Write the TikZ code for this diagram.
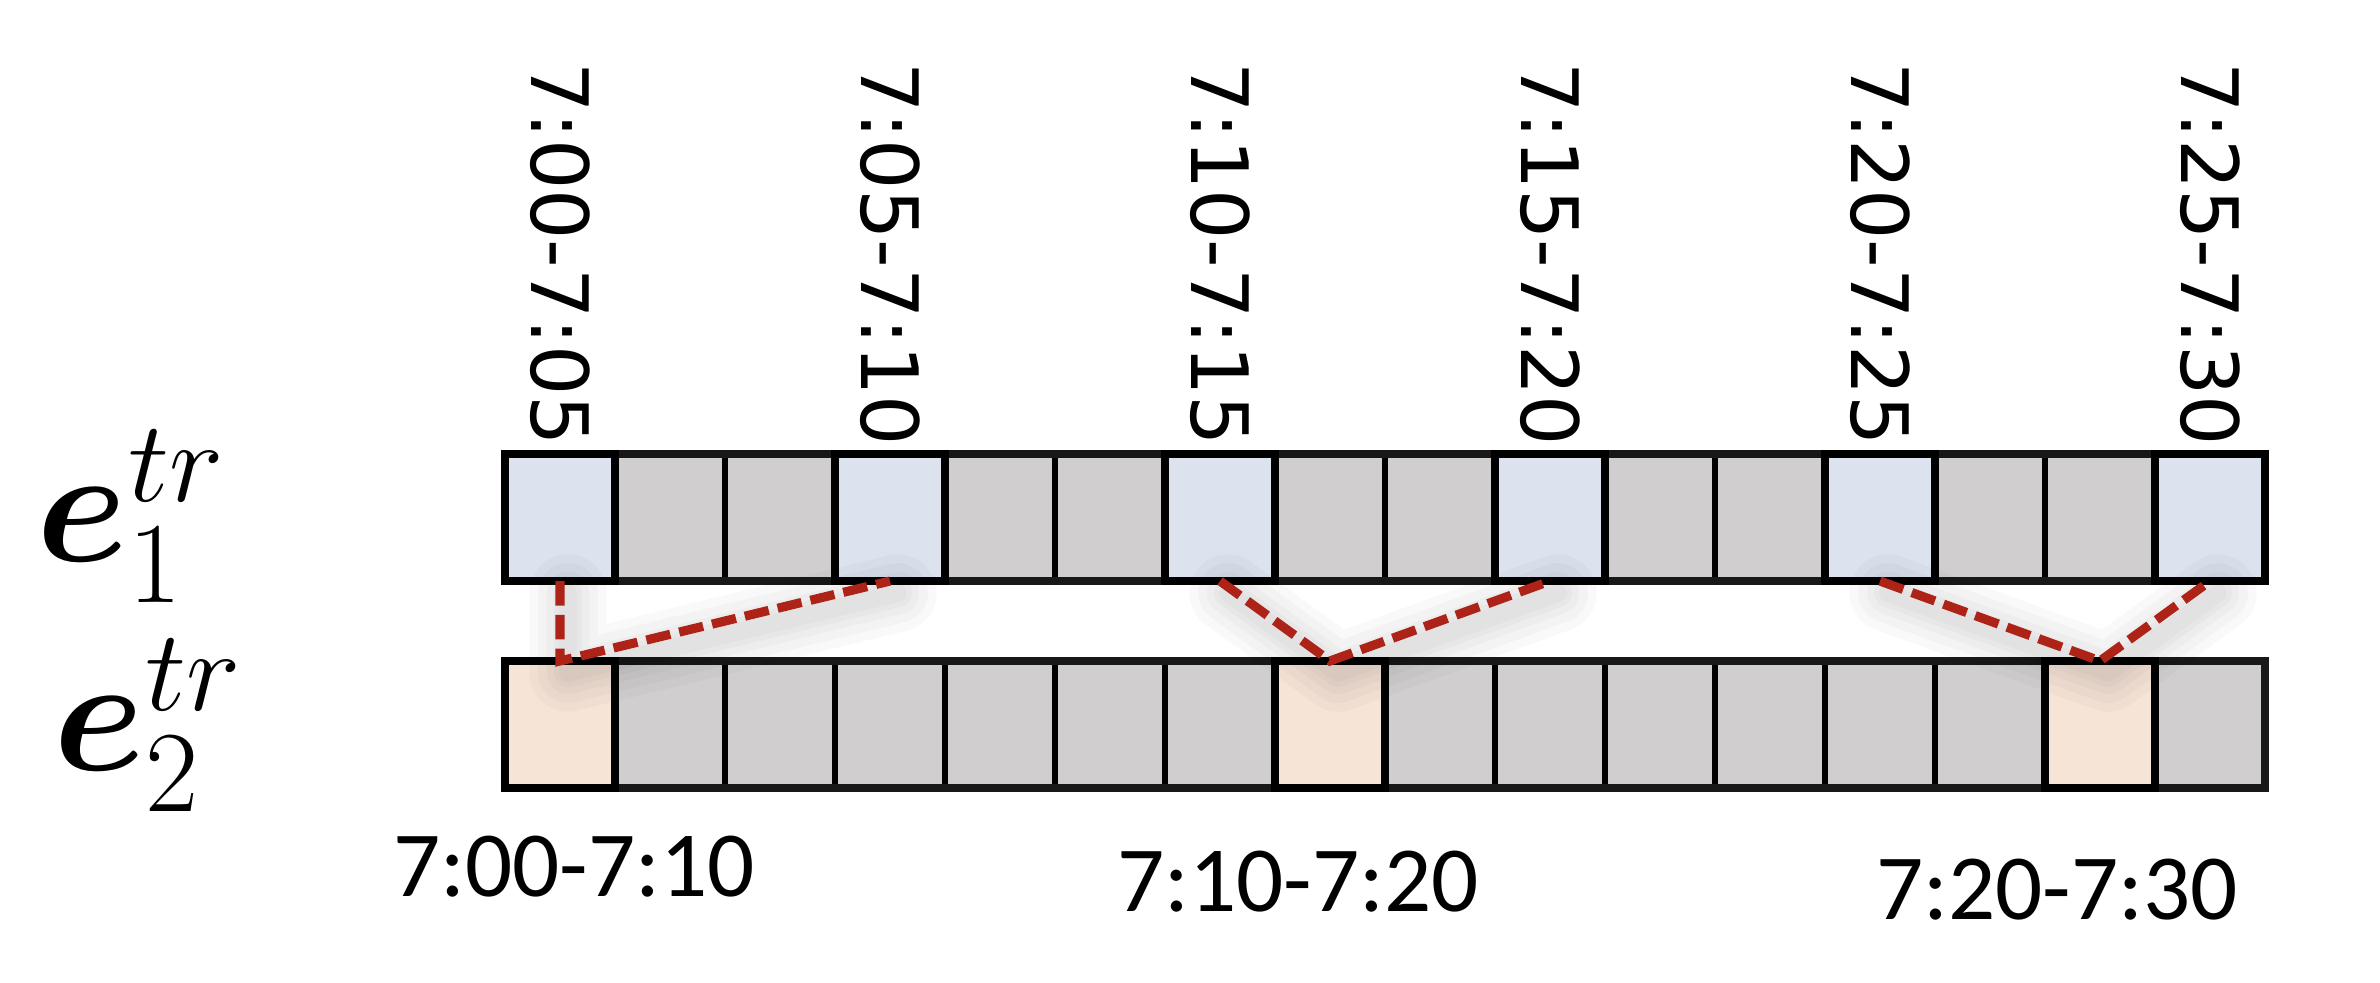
\RequirePackage{fix-cm}
\documentclass[tikz,border=0pt]{standalone}
\usepackage{fontspec}
\usepackage{bm}
\setmainfont{Carlito}
\newfontfamily\dejavu{DejaVu Sans}
\usetikzlibrary{calc}
\definecolor{cgray}{HTML}{D0CECE}
\definecolor{cblue}{HTML}{DCE3EF}
\definecolor{corange}{HTML}{F6E4D7}
\definecolor{cred}{HTML}{AE2318}
\definecolor{cframe}{HTML}{181818}
\tikzset{
  cell/.style={draw=black, line width=1.7pt, minimum width=1.1cm, minimum height=1.27cm, inner sep=0pt, outer sep=0pt},
  graycell/.style={cell, fill=cgray},
  bluecell/.style={cell, fill=cblue},
  orangecell/.style={cell, fill=corange},
  rowframe/.style={draw=cframe, line width=2.2pt},
  hiframe/.style={draw=black, line width=2.4pt},
  rotlabel/.style={rotate=-90, anchor=east, inner sep=0pt, font=\dejavu\fontsize{22.5}{26}\selectfont},
  botlabel/.style={inner sep=0pt, font=\fontsize{26.5}{30}\selectfont},
  elabel/.style={inner sep=0pt, font=\fontsize{47}{56}\selectfont},
  link/.style={draw=cred, line width=2.6pt, dash pattern=on 7pt off 2.6pt},
  shade/.style={draw=black, opacity=0.025, line cap=round, line join=round}
}
\begin{document}
\begin{tikzpicture}[x=0.01cm, y=-0.01cm]
\useasboundingbox (0,0) rectangle (2380,982);
% top row
\foreach \i in {2,3,5,6,8,9,11,12,14,15}
  \node[graycell] (t\i) at ({450+110*\i},517.5) {};
\foreach \i in {1,4,7,10,13,16}
  \node[bluecell] (t\i) at ({450+110*\i},517.5) {};
% bottom row
\foreach \i in {2,3,4,5,6,7,9,10,11,12,13,14,16}
  \node[graycell] (b\i) at ({450+110*\i},724.5) {};
\foreach \i in {1,8,15}
  \node[orangecell] (b\i) at ({450+110*\i},724.5) {};
% row frames
\draw[rowframe] (t1.north west) rectangle (t16.south east);
\draw[rowframe] (b1.north west) rectangle (b16.south east);
\foreach \i in {1,4,7,10,13,16}
  \draw[hiframe] (t\i.north west) rectangle (t\i.south east);
\foreach \i in {1,8,15}
  \draw[hiframe] (b\i.north west) rectangle (b\i.south east);
% rotated time labels
\node[rotlabel] (l1) at ([yshift=2pt]t1.north) {7:00-7:05};
\node[rotlabel] (l4) at ([yshift=2pt]t4.north) {7:05-7:10};
\node[rotlabel] (l7) at ([yshift=2pt]t7.north) {7:10-7:15};
\node[rotlabel] (l10) at ([yshift=2pt]t10.north) {7:15-7:20};
\node[rotlabel] (l13) at ([yshift=2pt]t13.north) {7:20-7:25};
\node[rotlabel] (l16) at ([yshift=2pt]t16.north) {7:25-7:30};
% bottom labels
\node[botlabel] (g1) at (574,867) {7:00-7:10};
\node[botlabel] (g2) at (1298,882) {7:10-7:20};
\node[botlabel] (g3) at (2057,890) {7:20-7:30};
% e labels
\node[elabel] (e1) at (131,516) {$\bm{e}_1^{tr}$};
\node[elabel] (e2) at (148,725) {$\bm{e}_2^{tr}$};
% soft shadows
\foreach \w in {22pt,17pt,12pt,8pt,5pt}{
  \draw[shade, line width=\w] ([shift={(8,12)}]t1.south) -- ([shift={(8,12)}]b1.north) -- ([shift={(8,12)}]t4.south);
  \draw[shade, line width=\w] ([shift={(8,12)}]t7.south) -- ([shift={(8,12)}]b8.north) -- ([shift={(8,12)}]t10.south);
  \draw[shade, line width=\w] ([shift={(8,12)}]t13.south) -- ([shift={(8,12)}]b15.north) -- ([shift={(8,12)}]t16.south);
}
% dashed links
\draw[link] (t1.south) -- (b1.north) -- (t4.south);
\draw[link] (t7.south) -- (b8.north) -- (t10.south);
\draw[link] (t13.south) -- (b15.north) -- (t16.south);
\end{tikzpicture}
\end{document}
